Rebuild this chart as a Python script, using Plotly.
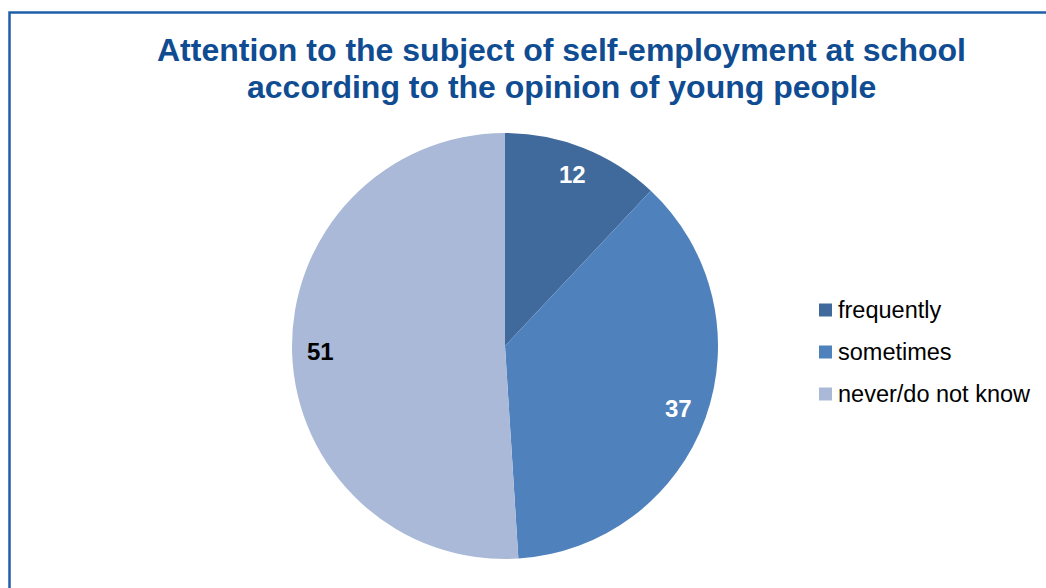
import math
import plotly.graph_objects as go

categories = ["frequently", "sometimes", "never/do not know"]
values = [12, 37, 51]
colors = ["#406A9C", "#4F81BD", "#AAB9D7"]
label_colors = ["white", "white", "black"]
title_lines = ["Attention to the subject of self-employment at school",
               "according to the opinion of young people"]

W, H = 1046, 588
cx, cy, r = 505, 346, 213
FONT = "Liberation Sans, Arial"

fig = go.Figure(go.Pie(
    labels=categories,
    values=values,
    sort=False,
    direction="clockwise",
    rotation=0,
    marker=dict(colors=colors, line=dict(width=0)),
    textinfo="none",
    hoverinfo="label+value",
    showlegend=False,
    domain=dict(x=[(cx - r) / W, (cx + r) / W], y=[(H - cy - r) / H, (H - cy + r) / H]),
))

annotations = []
# value labels at slice mid-angles
total = sum(values)
cum = 0
for v, c in zip(values, label_colors):
    mid = (cum + v / 2) / total * 2 * math.pi
    cum += v
    px = cx + 0.865 * r * math.sin(mid)
    py = cy - 0.865 * r * math.cos(mid)
    annotations.append(dict(
        x=px / W, y=1 - py / H, xref="paper", yref="paper",
        text=f"<b>{v}</b>", showarrow=False, xanchor="center", yanchor="middle",
        font=dict(family=FONT, size=24, color=c),
    ))

# title lines
for i, t in enumerate(title_lines):
    annotations.append(dict(
        x=561.5 / W, y=1 - (50 + 37 * i) / H, xref="paper", yref="paper",
        text=f"<b>{t}</b>", showarrow=False, xanchor="center", yanchor="middle",
        font=dict(family=FONT, size=32, color="#0F4C92"),
    ))

shapes = [dict(
    type="rect", xref="paper", yref="paper",
    x0=9.5 / W, x1=1.05, y0=-0.05, y1=1 - 12.5 / H,
    line=dict(color="#1F5FA8", width=2.5),
)]

# legend
for i, (cat, col) in enumerate(zip(categories, colors)):
    yc = 310 + 42 * i
    shapes.append(dict(
        type="rect", xref="paper", yref="paper",
        x0=819 / W, x1=832 / W, y0=1 - (yc + 6.5) / H, y1=1 - (yc - 6.5) / H,
        fillcolor=col, line=dict(width=0),
    ))
    annotations.append(dict(
        x=836 / W, y=1 - yc / H, xref="paper", yref="paper",
        text=cat, showarrow=False, xanchor="left", yanchor="middle",
        font=dict(family=FONT, size=23.5, color="black"),
    ))

fig.update_layout(
    width=W, height=H,
    margin=dict(l=0, r=0, t=0, b=0),
    paper_bgcolor="white",
    annotations=annotations,
    shapes=shapes,
)

fig.write_html("out.html")
